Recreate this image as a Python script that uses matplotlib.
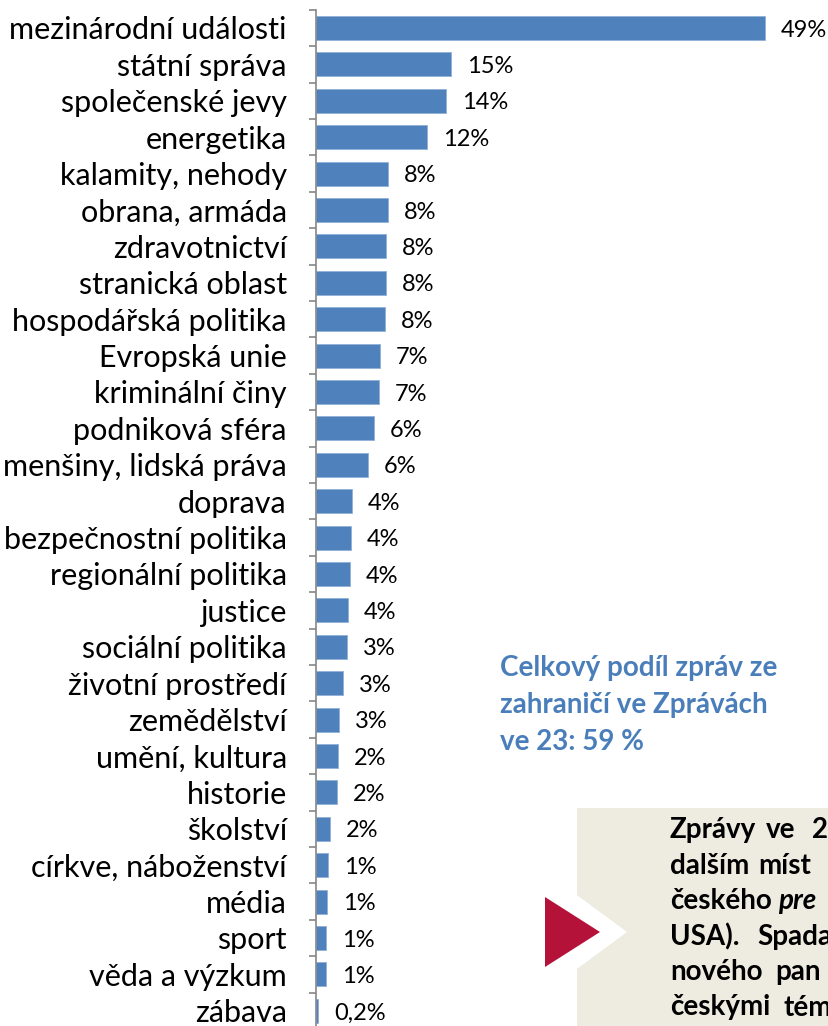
import matplotlib
matplotlib.use("Agg")
import matplotlib.pyplot as plt
from matplotlib.patches import Polygon, Rectangle

plt.rcParams['font.family'] = ['Lato', 'DejaVu Sans']

# data (share of news items, %)
categories = ["mezinárodní události", "státní správa", "společenské jevy", "energetika",
              "kalamity, nehody", "obrana, armáda", "zdravotnictví", "stranická oblast",
              "hospodářská politika", "Evropská unie", "kriminální činy", "podniková sféra",
              "menšiny, lidská práva", "doprava", "bezpečnostní politika", "regionální politika",
              "justice", "sociální politika", "životní prostředí", "zemědělství",
              "umění, kultura", "historie", "školství", "církve, náboženství",
              "média", "sport", "věda a výzkum", "zábava"]
values = [49.0, 14.7, 14.2, 12.1, 7.9, 7.9, 7.6, 7.6, 7.5, 7.0, 6.9, 6.3, 5.7,
          3.9, 3.8, 3.7, 3.5, 3.4, 2.9, 2.5, 2.4, 2.3, 1.5, 1.3, 1.2, 1.1, 1.1, 0.2]
value_labels = ["49%", "15%", "14%", "12%", "8%", "8%", "8%", "8%", "8%", "7%", "7%",
                "6%", "6%", "4%", "4%", "4%", "4%", "3%", "3%", "3%", "2%", "2%",
                "2%", "1%", "1%", "1%", "1%", "0,2%"]

W, H = 829, 1026
fig = plt.figure(figsize=(W / 100, H / 100), dpi=100)

# bar chart axes, placed in pixel terms
row = 36.4
top = 9.8
n = len(categories)
ax_h = n * row
ax = fig.add_axes([316 / W, (H - top - ax_h) / H, 504 / W, ax_h / H])

y = list(range(n))
ax.barh(y, values, height=0.66, color="#4F81BD", edgecolor="#8FB0D8", linewidth=0.6)
ax.set_ylim(n - 0.5, -0.5)
ax.set_xlim(0, 55)

for yi, v, lab in zip(y, values, value_labels):
    ax.annotate(lab, (v, yi), xytext=(11.5, -1.5), textcoords="offset points",
                va="center", ha="left", fontsize=17)

ax.set_yticks(y)
ax.set_yticklabels(categories, fontsize=22)
ax.set_yticks([i - 0.5 for i in range(n + 1)], minor=True)
ax.tick_params(axis="y", which="major", length=0, pad=21)
ax.tick_params(axis="y", which="minor", length=5, color="#868686", width=1.2)
ax.set_xticks([])
for s in ["top", "right", "bottom"]:
    ax.spines[s].set_visible(False)
ax.spines["left"].set_color("#868686")
ax.spines["left"].set_linewidth(1.2)

# overlay in pixel coordinates for the notes
ov = fig.add_axes([0, 0, 1, 1])
ov.set_xlim(0, W)
ov.set_ylim(H, 0)
ov.axis("off")

blue = "#4A7EBB"
for k, line in enumerate(["Celkový podíl zpráv ze", "zahraničí ve Zprávách", "ve 23: 59 %"]):
    ov.text(500, 668 + 37 * k, line, color=blue, fontsize=20,
            fontweight="bold", va="center")

ov.add_patch(Rectangle((577, 808), 300, 300, facecolor="#EEECE1", edgecolor="none"))
ov.add_patch(Polygon([(540, 890), (570, 890), (627, 932), (570, 974), (540, 974)],
                     closed=True, facecolor="white", edgecolor="none"))
ov.add_patch(Polygon([(545, 897), (600, 932), (545, 967)],
                     closed=True, facecolor="#B5123A", edgecolor="none"))

box_lines = [["Zprávy", "ve", "2"],
             ["dalším", "míst"],
             ["českého", "pre"],
             ["USA).", "Spada"],
             ["nového", "pan"],
             ["českými", "tém"]]
word_x = [[670, 766, 812], [670, 758], [670, 778], [670, 757], [670, 775], [670, 784]]
for k, (words, xs) in enumerate(zip(box_lines, word_x)):
    for w, x in zip(words, xs):
        style = "italic" if (k == 2 and w == "pre") else "normal"
        ov.text(x, 830 + 35.5 * k, w, fontsize=20, fontweight="bold", style=style,
                va="center", ha="left", color="black")

fig.savefig("out.png", dpi=100)
